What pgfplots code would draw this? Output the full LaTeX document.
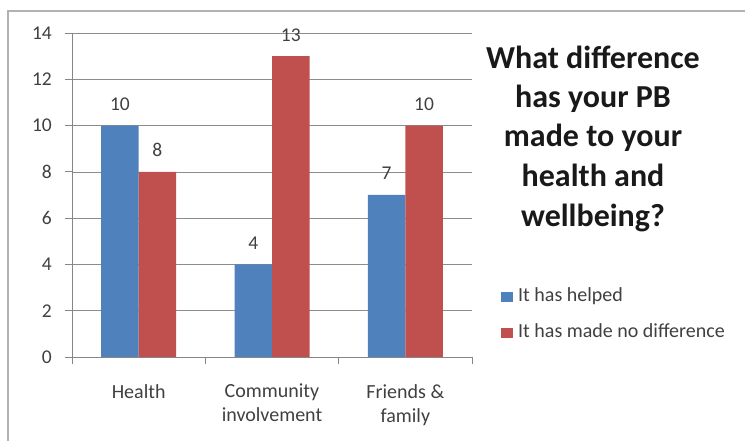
\documentclass[border=0pt]{standalone}
\usepackage{fontspec}
\setmainfont{Carlito}
\usepackage{pgfplots}
\pgfplotsset{compat=1.18}
\definecolor{barblue}{HTML}{4F81BD}
\definecolor{barred}{HTML}{C0504D}
\definecolor{axgray}{HTML}{868686}
\definecolor{gridgray}{HTML}{8C8C8C}
\definecolor{txt}{HTML}{404040}
\begin{document}
\begin{tikzpicture}
\path[use as bounding box] (0pt,0pt) rectangle (745pt,441pt);
\draw[gray!60, line width=2pt] (8pt,0pt) -- (8pt,430pt) -- (745pt,430pt);
\begin{axis}[
  at={(72pt,84pt)}, anchor=south west,
  scale only axis, width=400pt, height=324pt,
  ybar=0pt, bar width=37.5pt,
  xmin=-0.5, xmax=2.5, ymin=0, ymax=14,
  ytick={0,2,...,14},
  xtick={0,1,2},
  xticklabels={Health,{Community\\involvement},{Friends \&\\family}},
  minor xtick={-0.5,0.5,1.5,2.5},
  axis x line*=bottom, axis y line*=left,
  axis line style={draw=axgray, line width=0.8pt, -},
  tick align=outside,
  major tick length=7pt, minor tick length=7pt,
  major x tick style={draw=none},
  tick style={draw=axgray, line width=0.8pt},
  ymajorgrids, grid style={draw=gridgray, line width=0.7pt},
  /pgf/number format/assume math mode=true,
  ticklabel style={font=\fontsize{19.5}{23}\selectfont, text=txt},
  xticklabel style={font=\fontsize{20}{24}\selectfont, align=center, anchor=north, inner sep=0pt, yshift=-20pt},
  yticklabel style={inner sep=0pt, xshift=-13pt},
  nodes near coords,
  every node near coord/.append style={font=\fontsize{19.5}{23}\selectfont, text=txt, anchor=base, inner sep=0pt, yshift=15pt},
  legend style={at={(rel axis cs:1.0725,0.2154)}, anchor=north west, draw=none, fill=none,
    font=\fontsize{20}{24}\selectfont, text=txt, inner sep=0pt,
    nodes={inner sep=0pt, text height=14pt, text depth=5pt},
    row sep=17pt},
  legend cell align=left,
]
\addplot[fill=barblue, draw=none, legend image code/.code={\fill[barblue] (0pt,-5pt) rectangle (12pt,5pt); \path (17pt,0pt);}]
  coordinates {(0,10) (1,4) (2,7)};
\addplot[fill=barred, draw=none, legend image code/.code={\fill[barred] (0pt,-5pt) rectangle (12pt,5pt); \path (17pt,0pt);}]
  coordinates {(0,8) (1,13) (2,10)};
\legend{It has helped, It has made no difference}
\end{axis}
\begin{scope}[every node/.style={font=\bfseries\fontsize{32}{39}\selectfont, text=black!90, anchor=base, inner sep=0pt}]
\node at (593pt,372pt) {What difference};
\node at (593pt,333pt) {has your PB};
\node at (593pt,294pt) {made to your};
\node at (593pt,254pt) {health and};
\node at (593pt,214pt) {wellbeing?};
\end{scope}
\end{tikzpicture}
\end{document}
